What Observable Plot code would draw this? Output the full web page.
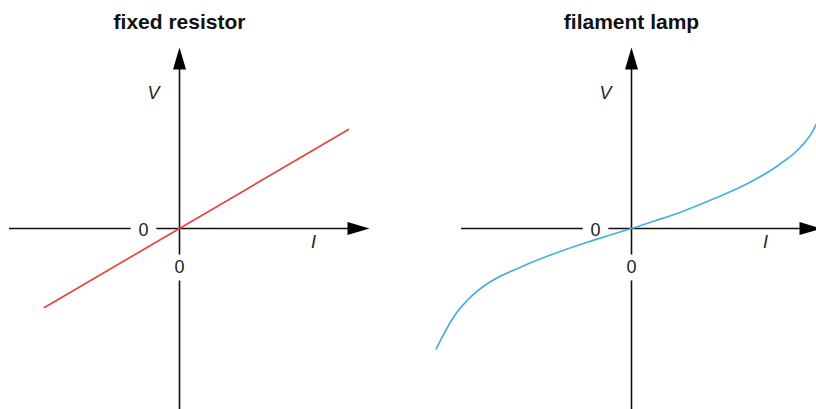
<!DOCTYPE html>
<html><head><meta charset="utf-8">
<script src="https://cdn.jsdelivr.net/npm/d3@7"></script>
<script src="https://cdn.jsdelivr.net/npm/@observablehq/plot@0.6"></script>
<style>
html,body{margin:0;padding:0;background:#fff;overflow:hidden;}
#chart{display:flex;width:816px;height:409px;overflow:hidden;}
#chart svg{flex:none;max-width:none;}
</style></head><body><div id="chart"></div>
<script>
// ---- data ----
const titles = ["fixed resistor", "filament lamp"];
const resistorI = [-2.7, 3.38];
const resistorV = [-1.58, 1.98];
const lampI = [-3.906, -3.56, -3.22, -2.886, -2.22, -1.554, -0.886, -0.44, 0, 0.49, 0.98, 1.646, 2.314, 2.98, 3.38, 3.614, 3.70, 3.76];
const lampV = [-2.406, -1.774, -1.374, -1.106, -0.774, -0.506, -0.274, -0.135, 0, 0.16, 0.326, 0.594, 0.894, 1.294, 1.626, 1.926, 2.094, 2.22];
const axisI = [-3.4, 3.8];   // horizontal axis: start, arrow tip
const axisV = [-3.7, 3.62];  // vertical axis: bottom, arrow tip
const zeroTick = "0";
const xLabel = "I";
const yLabel = "V";
const colors = ["#e8443f", "#4aaee0"];

// ---- layout ----
const PX = 50;            // pixels per unit
const originY = 228, H = 409;
const panelWidths = [408, 408];
const originXs = [179, 223];
const font = "Arial";

const arrowHead = {
  draw(ctx, l, r) { ctx.moveTo(0, -l); ctx.lineTo(r, 0); ctx.lineTo(-r, 0); ctx.closePath(); }
};

const series = [
  resistorI.map((I, i) => ({I, V: resistorV[i]})),
  lampI.map((I, i) => ({I, V: lampV[i]}))
];

function panel(k) {
  const width = panelWidths[k], originX = originXs[k];
  const tips = [{I: axisI[1], V: 0, rot: 90}, {I: 0, V: axisV[1], rot: 0}];
  const zeroPos = [{I: -0.72, V: -0.03}, {I: 0, V: -0.78}];
  return Plot.plot({
    width, height: H, margin: 0,
    x: {type: "linear", domain: [-originX / PX, (width - originX) / PX], range: [0, width], axis: null},
    y: {type: "linear", domain: [-(H - originY) / PX, originY / PX], range: [H, 0], axis: null},
    style: {background: "white", overflow: "hidden"},
    marks: [
      Plot.ruleY([0], {x1: axisI[0], x2: axisI[1] - 0.2, stroke: "#111", strokeWidth: 1.6}),
      Plot.ruleX([0], {y1: axisV[0], y2: axisV[1] - 0.2, stroke: "#111", strokeWidth: 1.6}),
      Plot.vector(tips, {x: "I", y: "V", rotate: "rot", length: 22, r: 6.5, anchor: "end", shape: arrowHead, fill: "#000", stroke: "none"}),
      // white gaps in the axes around the zero labels
      Plot.dot(zeroPos, {x: "I", y: "V", r: 13, fill: "white", stroke: "none"}),
      Plot.text(zeroPos, {x: "I", y: "V", text: () => zeroTick, fontSize: 18, fontFamily: font, fill: "#222"}),
      Plot.text([yLabel], {x: () => -0.52, y: () => 2.7, text: d => d, fontSize: 18, fontFamily: font, fontStyle: "italic", fill: "#222"}),
      Plot.text([xLabel], {x: () => 2.68, y: () => -0.28, text: d => d, fontSize: 18, fontFamily: font, fontStyle: "italic", fill: "#222"}),
      Plot.line(series[k], {x: "I", y: "V", stroke: colors[k], strokeWidth: 1.7, curve: "monotone-x"}),
      Plot.text([titles[k]], {x: () => 0, y: () => 4.12, text: d => d, fontSize: 21, fontFamily: font, fontWeight: "bold", fill: "#111"})
    ]
  });
}

const el = document.getElementById("chart");
el.append(panel(0), panel(1));
</script></body></html>
